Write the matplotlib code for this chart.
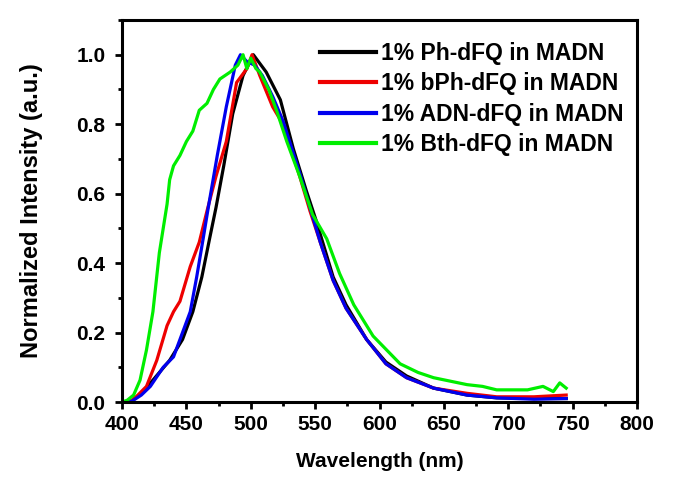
"""Normalized PL spectra of dFQ emitters doped in MADN."""
import matplotlib

matplotlib.use("Agg")
import matplotlib.pyplot as plt
from matplotlib.ticker import MultipleLocator

plt.rcParams["font.family"] = ["Liberation Sans", "DejaVu Sans"]
plt.rcParams["font.weight"] = "bold"

LABELS = [
    "1% Ph-dFQ in MADN",
    "1% bPh-dFQ in MADN",
    "1% ADN-dFQ in MADN",
    "1% Bth-dFQ in MADN",
]
COLORS = ["#000000", "#ee0000", "#0000ee", "#00ee00"]

# Ph-dFQ
ph_x = [405, 408, 415, 424, 437, 447, 455, 462, 468, 473, 479, 486, 494, 502,
        512, 523, 533, 543, 551, 564, 574, 590, 605, 621, 642, 668, 691, 720, 745]
ph_y = [0.0, 0.005, 0.025, 0.063, 0.12, 0.18, 0.26, 0.36, 0.47, 0.56, 0.68, 0.83,
        0.94, 1.0, 0.95, 0.87, 0.73, 0.61, 0.52, 0.36, 0.28, 0.18, 0.115, 0.075,
        0.04, 0.02, 0.012, 0.01, 0.01]

# bPh-dFQ
bph_x = [404, 408, 411, 419, 427, 435, 440, 445, 453, 460, 466, 473, 481, 489,
         497, 501, 507, 517, 525, 538, 546, 554, 564, 574, 590, 605, 621, 642,
         668, 691, 720, 745]
bph_y = [0.0, 0.005, 0.015, 0.045, 0.12, 0.22, 0.26, 0.29, 0.39, 0.46, 0.55, 0.65,
         0.75, 0.92, 0.96, 1.0, 0.94, 0.85, 0.80, 0.65, 0.55, 0.46, 0.35, 0.27,
         0.18, 0.11, 0.07, 0.04, 0.025, 0.015, 0.015, 0.02]

# ADN-dFQ
adn_x = [405, 408, 415, 422, 432, 440, 447, 453, 458, 463, 467, 474, 481, 488,
         492, 497, 503, 509, 517, 525, 538, 546, 554, 564, 574, 590, 605, 621,
         642, 668, 691, 720, 745]
adn_y = [0.0, 0.003, 0.02, 0.045, 0.10, 0.13, 0.20, 0.26, 0.36, 0.47, 0.56, 0.71,
         0.85, 0.97, 1.0, 0.98, 0.97, 0.94, 0.88, 0.81, 0.66, 0.56, 0.46, 0.35,
         0.27, 0.18, 0.11, 0.07, 0.04, 0.02, 0.012, 0.008, 0.01]

# Bth-dFQ
bth_x = [400, 404, 409, 414, 419, 424, 429, 435, 437, 440, 445, 450, 455, 460,
         466, 471, 476, 484, 490, 494, 497, 500, 504, 507, 514, 520, 528, 538,
         548, 559, 569, 580, 595, 616, 630, 642, 655, 668, 680, 691, 704, 715,
         727, 735, 740, 745]
bth_y = [0.0, 0.005, 0.02, 0.063, 0.15, 0.26, 0.43, 0.57, 0.64, 0.68, 0.71, 0.75,
         0.78, 0.84, 0.86, 0.90, 0.93, 0.95, 0.97, 1.0, 0.96, 0.99, 0.96, 0.95,
         0.90, 0.84, 0.75, 0.65, 0.54, 0.47, 0.37, 0.28, 0.19, 0.11, 0.085, 0.07,
         0.06, 0.05, 0.045, 0.035, 0.035, 0.035, 0.045, 0.03, 0.055, 0.04]

SERIES = [(ph_x, ph_y), (bph_x, bph_y), (adn_x, adn_y), (bth_x, bth_y)]

fig = plt.figure(figsize=(6.76, 4.84), dpi=100)
ax = fig.add_axes([0.1805, 0.1694, 0.7618, 0.7893])

for (xs, ys), label, color in zip(SERIES, LABELS, COLORS):
    ax.plot(xs, ys, color=color, linewidth=2.3, label=label)

ax.set_xlim(400, 800)
ax.set_ylim(0, 1.1)
ax.xaxis.set_major_locator(MultipleLocator(50))
ax.xaxis.set_minor_locator(MultipleLocator(25))
ax.yaxis.set_major_locator(MultipleLocator(0.2))
ax.yaxis.set_minor_locator(MultipleLocator(0.1))
ax.tick_params(which="major", direction="out", length=5, width=2, labelsize=15)
ax.tick_params(axis="x", which="major", pad=4)
ax.tick_params(axis="y", which="major", pad=7)
ax.tick_params(which="minor", direction="out", length=3, width=2)
for sp in ax.spines.values():
    sp.set_linewidth(2.2)

ax.set_xlabel("Wavelength (nm)", fontsize=15, fontweight="bold")
ax.set_ylabel("Normalized Intensity (a.u.)", fontsize=17, fontweight="bold")
ax.xaxis.set_label_coords(0.5, -0.13)
ax.yaxis.set_label_coords(-0.153, 0.5)

leg = ax.legend(loc="upper right", bbox_to_anchor=(1.005, 0.985), frameon=False,
                fontsize=16.5, handlelength=2.45, handletextpad=0.22,
                labelspacing=0.33, borderaxespad=0.3)
for line in leg.get_lines():
    line.set_linewidth(3)

fig.savefig("out.png", dpi=100)
